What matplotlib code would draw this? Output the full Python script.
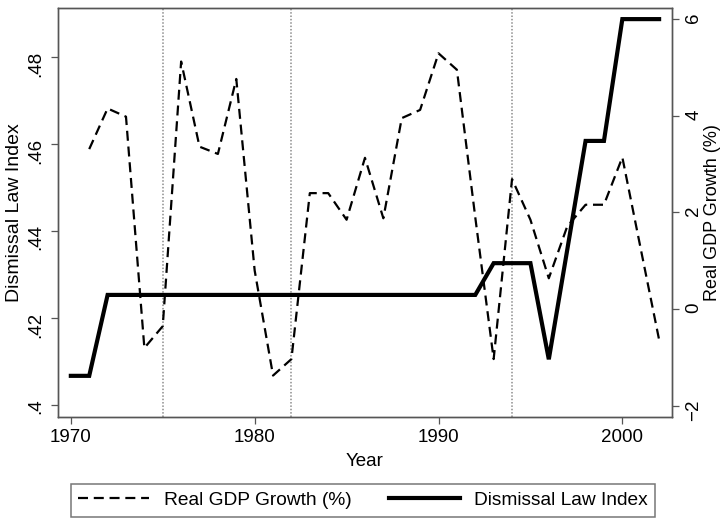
import matplotlib
matplotlib.use("Agg")
import matplotlib.pyplot as plt
from matplotlib.lines import Line2D

plt.rcParams['font.family'] = ['Liberation Sans', 'DejaVu Sans']

# dismissal law index (left axis)
law_years = list(range(1970, 2003))
law_index = [0.4067, 0.4067] + [0.4253] * 21 + [0.4326, 0.4326, 0.4326,
             0.4105, 0.4356, 0.4607, 0.4607, 0.4887, 0.4887, 0.4887]

# real gdp growth (right axis)
gdp_years = list(range(1971, 2003))
gdp_growth = [3.31, 4.15, 3.98, -0.80, -0.35, 5.12, 3.36, 3.21, 4.76, 0.80,
              -1.37, -1.03, 2.40, 2.40, 1.85, 3.13, 1.88, 3.95, 4.12, 5.29,
              4.95, 1.90, -1.03, 2.69, 1.85, 0.64, 1.71, 2.16, 2.16, 3.14,
              1.25, -0.63]

event_years = [1975, 1982, 1994]

x_ticks = [1970, 1980, 1990, 2000]
left_ticks = [0.40, 0.42, 0.44, 0.46, 0.48]
left_labels = ['.4', '.42', '.44', '.46', '.48']
right_ticks = [-2, 0, 2, 4, 6]

spine_col = '#555555'

fig = plt.figure(figsize=(7.21, 5.18), dpi=100)
ax = fig.add_axes([0.0804, 0.195, 0.8516, 0.7896])
ax2 = ax.twinx()

for yr in event_years:
    ax.axvline(yr, color='#8c8c8c', lw=1.1, ls=(0, (1, 1.2)), zorder=1)

ax2.plot(gdp_years, gdp_growth, color='black', lw=1.6, ls=(0, (4.5, 2.6)))
ax.plot(law_years, law_index, color='black', lw=3.0, solid_joinstyle='miter')

ax.set_xlim(1969.3, 2002.7)
ax.set_ylim(0.39724, 0.49126)
ax2.set_ylim(-2.227, 6.227)

ax.set_xticks(x_ticks)
ax.set_yticks(left_ticks)
ax.set_yticklabels(left_labels)
ax2.set_yticks(right_ticks)
ax2.set_yticklabels(['\u22122', '0', '2', '4', '6'])

for a in (ax, ax2):
    for s in a.spines.values():
        s.set_color(spine_col)
        s.set_linewidth(1.0)
    a.tick_params(length=5, width=0.9, color=spine_col, labelsize=13.5, pad=4)

ax.tick_params(axis='y', labelrotation=90, pad=5)
ax2.tick_params(axis='y', labelrotation=90, pad=4.5)

ax.set_xlabel('Year', fontsize=13.5, labelpad=5)
ax.set_ylabel('Dismissal Law Index', fontsize=14, labelpad=3)
ax2.set_ylabel('Real GDP Growth (%)', fontsize=13, labelpad=1)

handles = [Line2D([], [], color='black', lw=1.6, ls=(0, (4.5, 2.6))),
           Line2D([], [], color='black', lw=3.0)]
labels = ['Real GDP Growth (%)', 'Dismissal Law Index']
leg = fig.legend(handles, labels, loc='lower left',
                 bbox_to_anchor=(70.7 / 721, 1.5 / 518), ncol=2,
                 fontsize=13.8, frameon=True, fancybox=False,
                 handlelength=3.7, handletextpad=0.75, columnspacing=1.95,
                 borderpad=0.4, borderaxespad=0)
leg.get_frame().set_edgecolor(spine_col)
leg.get_frame().set_linewidth(1.1)

fig.savefig('out.png', dpi=100)
